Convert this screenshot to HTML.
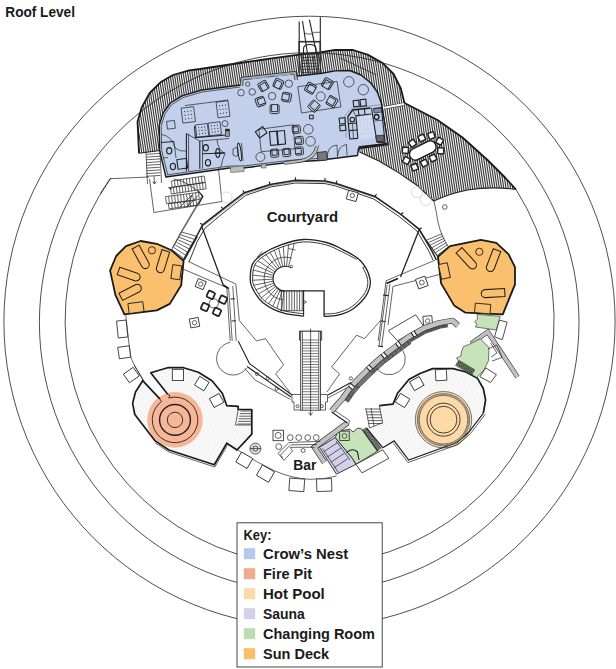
<!DOCTYPE html>
<html><head><meta charset="utf-8"><title>Roof Level</title>
<style>
html,body{margin:0;padding:0;background:#fff;}
body{width:616px;height:669px;overflow:hidden;position:relative;font-family:"Liberation Sans",sans-serif;}
svg{position:absolute;left:0;top:0;display:block;}
text{font-family:"Liberation Sans",sans-serif;font-weight:bold;fill:#1a1a1a;}
.t{stroke:#222;stroke-width:0.7;fill:none;}
.m{stroke:#222;stroke-width:1.1;fill:none;}
.k{stroke:#1a1a1a;stroke-width:1.8;fill:none;stroke-linejoin:round;}
.w{fill:#fff;stroke:#222;stroke-width:0.8;}
</style></head><body>
<svg width="616" height="669" viewBox="0 0 616 669">
<defs>
<pattern id="hd" width="1.8" height="40" patternUnits="userSpaceOnUse" patternTransform="rotate(7)"><rect width="1.8" height="40" fill="#fff"/><rect width="0.86" height="40" fill="#222"/></pattern>
<pattern id="hl" width="2.2" height="2.2" patternUnits="userSpaceOnUse" patternTransform="rotate(-30)"><rect width="2.2" height="2.2" fill="#fcfcfc"/><rect width="2.2" height="0.45" fill="#e2e2e2"/></pattern>
</defs>
<!-- TERRACE -->
<g id="terrace">
<path d="M139,153.2 L137.5,121.8 L141.7,107.4 L149.7,93 L160.5,82.3 L173,75 L189.2,70.3 L200,69 L240,63 L270,58.7 L297.4,54.8 L320,52.5 L335,49.8 L353,50 L367.6,54.6 L382.2,62.7 L393.6,74 L400.9,88.7 L404.5,103 L437.5,120 L462.5,137.5 L487.5,160 L505,177.5 L516,189.5 Q492,186 467.5,190 Q450,193.5 433.7,201 L418,186 L398.4,172.6 L379,161 L359.5,152 L300,150 L160,150.5 Z" fill="url(#hd)"/>
<path class="k" d="M139,153.2 L137.5,121.8 L141.7,107.4 L149.7,93 L160.5,82.3 L173,75 L189.2,70.3 L200,69 L240,63 L270,58.7 L297.4,54.8 L320,52.5 L335,49.8 L353,50 L367.6,54.6 L382.2,62.7 L393.6,74 L400.9,88.7 L404.5,103 L437.5,120 L462.5,137.5 L487.5,160 L505,177.5 L516,189.5"/>
<path class="m" d="M516,189.5 Q492,186 467.5,190 Q450,193.5 433.7,201 L418,186 L398.4,172.6 L379,161 L359.5,152"/>
<path class="m" d="M139,153.2 L160,150.5"/>
<path d="M384.6,107.6 L403.6,104.2" stroke="#333" stroke-width="3.2" fill="none"/><path d="M384.2,107.7 L404.2,104.1" stroke="#fff" stroke-width="2" fill="none"/>
<path class="t" d="M340,57.9 L376.5,75"/>
<rect x="-3" y="-3" width="6" height="6" rx="0.6" transform="translate(412.5 143.2) rotate(-35)" class="w" style="stroke-width:1.5"/><rect x="-3" y="-3" width="6" height="6" rx="0.6" transform="translate(421.8 138) rotate(-27)" class="w" style="stroke-width:1.5"/><rect x="-3" y="-3" width="6" height="6" rx="0.6" transform="translate(431.4 135.5) rotate(-18)" class="w" style="stroke-width:1.5"/><rect x="-3" y="-3" width="6" height="6" rx="0.6" transform="translate(439.6 141.2) rotate(30)" class="w" style="stroke-width:1.5"/><rect x="-3" y="-3" width="6" height="6" rx="0.6" transform="translate(440.7 150.8) rotate(5)" class="w" style="stroke-width:1.5"/><rect x="-3" y="-3" width="6" height="6" rx="0.6" transform="translate(433 158) rotate(-27)" class="w" style="stroke-width:1.5"/><rect x="-3" y="-3" width="6" height="6" rx="0.6" transform="translate(424.3 163.1) rotate(-27)" class="w" style="stroke-width:1.5"/><rect x="-3" y="-3" width="6" height="6" rx="0.6" transform="translate(414.6 167.2) rotate(-22)" class="w" style="stroke-width:1.5"/><rect x="-3" y="-3" width="6" height="6" rx="0.6" transform="translate(406.4 160.5) rotate(30)" class="w" style="stroke-width:1.5"/><rect x="-3" y="-3" width="6" height="6" rx="0.6" transform="translate(405.4 150.3) rotate(5)" class="w" style="stroke-width:1.5"/><rect x="-14.2" y="-6" width="28.4" height="12" rx="6" class="w" style="stroke-width:1.5" transform="translate(422.8 150.5) rotate(-26.6)"/>
</g>
<!-- RINGS -->
<g id="rings" class="t" style="stroke-width:0.8">
<circle cx="309.5" cy="321.8" r="305.6"/>
<circle cx="309.2" cy="322.5" r="269.8"/>
<path d="M516,189.5 A244.5,244.5 0 1 1 111,178"/>
</g>
<!-- BUILDING -->
<g id="building">
<path d="M165.9,177 L159.6,150.5 L159.2,125.4 L163.2,112.8 L170.4,103 L182,95.8 L201.8,90 L240.5,85 L241.5,78 L296,72 L297,76 L322,73.3 L335,70.9 L349.7,70.5 L361,75 L370.8,83 L377.3,92 L381.4,103.3 L388.2,144.6 L358.5,148.5 L357.5,155.5 L317.5,160.5 L290,162.3 L243,168 L229.5,168 Z" class="" fill="#c3d0ec" stroke="#1a1a1a" stroke-width="1.4" stroke-linejoin="round"/><path d="M167.5,174.8 L229.5,166 L243,166 L290,160.3 L317,158.5" class="t" /><path d="M167.8,175 L161.6,150.3 L161.2,125.8 L165,113.8 L171.8,104.6 L183,97.6 L202.2,92 L240,87" class="t" /><rect x="230.5" y="166.5" width="13.5" height="5.5" fill="#bdbdbd" stroke="#444" stroke-width="0.5" transform="rotate(-5 237 169)"/><rect x="261.4" y="164" width="4.6" height="4" fill="#bdbdbd" stroke="#444" stroke-width="0.5"/><path d="M241.2,86 L242,78.6 L295,72.6 L296.3,80" fill="none" stroke="#b5b5b5" stroke-width="2.4"/><path d="M240,86 L241,77.4 L296,71.4 L297.6,80 M242.6,86 L243.2,79.8 L293.8,74 L295,80" class="t"/><path d="M252,78.6 L268,76.8 M274,76.2 L290,74.4" stroke="#8fa5d0" stroke-width="1.2" fill="none"/><path d="M284.3,163 L300,161 Q315,159 317.2,145.7" fill="none" stroke="#c4c4c4" stroke-width="2.6"/><path d="M284.3,164.4 L300,162.4 Q316.6,160 318.6,145.7 M284.3,161.6 L300,159.6 Q313.6,157.5 315.8,145.7" class="t"/><path d="M184.9,105.6 L228.3,100" class="t" /><g transform="translate(188.2 114.9) rotate(-7)"><rect x="-6.3" y="-7.5" width="12.7" height="15" class="t"/><rect x="-3.7" y="-4.2" width="1" height="1" fill="#222"/><rect x="-3.7" y="-0.5" width="1" height="1" fill="#222"/><rect x="-3.7" y="3.2" width="1" height="1" fill="#222"/><rect x="-0.5" y="-4.2" width="1" height="1" fill="#222"/><rect x="-0.5" y="-0.5" width="1" height="1" fill="#222"/><rect x="-0.5" y="3.2" width="1" height="1" fill="#222"/><rect x="2.7" y="-4.2" width="1" height="1" fill="#222"/><rect x="2.7" y="-0.5" width="1" height="1" fill="#222"/><rect x="2.7" y="3.2" width="1" height="1" fill="#222"/></g><g transform="translate(223 109.2) rotate(-7)"><rect x="-6" y="-7.8" width="12" height="15.7" class="t"/><rect x="-3.5" y="-4.4" width="1" height="1" fill="#222"/><rect x="-3.5" y="-0.5" width="1" height="1" fill="#222"/><rect x="-3.5" y="3.4" width="1" height="1" fill="#222"/><rect x="-0.5" y="-4.4" width="1" height="1" fill="#222"/><rect x="-0.5" y="-0.5" width="1" height="1" fill="#222"/><rect x="-0.5" y="3.4" width="1" height="1" fill="#222"/><rect x="2.5" y="-4.4" width="1" height="1" fill="#222"/><rect x="2.5" y="-0.5" width="1" height="1" fill="#222"/><rect x="2.5" y="3.4" width="1" height="1" fill="#222"/></g><rect x="-4" y="-3.9" width="7.9" height="7.8" rx="0" transform="translate(171 124.8) rotate(-7)" class="t" /><g transform="translate(202.1 130.4) rotate(-7)"><rect x="-6" y="-6.2" width="12" height="12.4" class="t"/><rect x="-3.5" y="-3.6" width="1" height="1" fill="#222"/><rect x="-3.5" y="-0.5" width="1" height="1" fill="#222"/><rect x="-3.5" y="2.6" width="1" height="1" fill="#222"/><rect x="-0.5" y="-3.6" width="1" height="1" fill="#222"/><rect x="-0.5" y="-0.5" width="1" height="1" fill="#222"/><rect x="-0.5" y="2.6" width="1" height="1" fill="#222"/><rect x="2.5" y="-3.6" width="1" height="1" fill="#222"/><rect x="2.5" y="-0.5" width="1" height="1" fill="#222"/><rect x="2.5" y="2.6" width="1" height="1" fill="#222"/></g><g transform="translate(214.8 128.7) rotate(-7)"><rect x="-6" y="-6.3" width="12" height="12.7" class="t"/><rect x="-3.5" y="-3.7" width="1" height="1" fill="#222"/><rect x="-3.5" y="-0.5" width="1" height="1" fill="#222"/><rect x="-3.5" y="2.7" width="1" height="1" fill="#222"/><rect x="-0.5" y="-3.7" width="1" height="1" fill="#222"/><rect x="-0.5" y="-0.5" width="1" height="1" fill="#222"/><rect x="-0.5" y="2.7" width="1" height="1" fill="#222"/><rect x="2.5" y="-3.7" width="1" height="1" fill="#222"/><rect x="2.5" y="-0.5" width="1" height="1" fill="#222"/><rect x="2.5" y="2.7" width="1" height="1" fill="#222"/></g><path d="M194.5,126 L195.4,137.6 L229.8,134.8" class="m" /><circle cx="225" cy="123.6" r="3" class="t" /><rect x="225.3" y="129.1" width="4" height="7.5" fill="#999" stroke="#222" stroke-width="0.6"/><rect x="225.3" y="129.1" width="4" height="2.2" fill="#222"/><path d="M186.4,133.6 L186.4,171" class="m" /><path d="M188.6,133.6 L188.6,171" class="t" /><path d="M199.8,141 L199.8,168.7" class="m" /><path d="M202.5,141 L202.5,168.7" class="t" /><path d="M202.5,153.8 L225.3,153" class="m" /><path d="M186.4,133.6 L199.8,141 L229,138.5" class="t" /><path d="M161,142.5 L174,141.5" class="m" /><path d="M163,158 L168,157.5" class="t" /><path d="M174,141.5 L176,158" class="t" /><ellipse cx="205.8" cy="147.8" rx="2.6" ry="3.2" class="m"/><ellipse cx="208" cy="162.7" rx="2.6" ry="3.2" class="m"/><ellipse cx="169.2" cy="150.8" rx="2.6" ry="3.2" class="m"/><ellipse cx="172.9" cy="166.5" rx="2.6" ry="3.2" class="m"/><rect x="-4.8" y="-4.8" width="9.7" height="9.7" rx="0" transform="translate(182.2 163.8) rotate(-7)" class="m" /><path d="M161.5,134.5 Q172,136 175,148 Q180,152 186,151" class="t"/><path d="M217,140 Q218,150 225,153.5 Q222,160 221,167" class="t"/><ellipse cx="217.8" cy="153" rx="2" ry="4.4" class="m"/><path d="M214.5,153 H224" class="m"/><ellipse cx="239.5" cy="152" rx="1.6" ry="9" transform="rotate(-8 239.5 152)" class="m"/><path d="M233,149 Q236,146 238,149 V155 Q236,158 233,155 Z" class="t"/><path d="M241.5,143 L243,161" class="t"/><circle cx="241" cy="92.7" r="3.3" class="t" /><circle cx="252.2" cy="91.9" r="3.3" class="t" /><circle cx="247.7" cy="84.1" r="2.2" class="t" /><circle cx="288.8" cy="83.7" r="3.7" class="t" /><circle cx="272.1" cy="96.1" r="3.7" class="t" /><g transform="translate(263.4 86) rotate(-30)" class="t" style="stroke-width:0.9"><rect x="-4.5" y="-4.5" width="9" height="9" rx="1.5"/><path d="M-3,4.5 V-2.5 H3 V4.5"/></g><g transform="translate(278.4 83.7) rotate(25)" class="t" style="stroke-width:0.9"><rect x="-4.5" y="-4.5" width="9" height="9" rx="1.5"/><path d="M-3,4.5 V-2.5 H3 V4.5"/></g><g transform="translate(286.6 97.2) rotate(100)" class="t" style="stroke-width:0.9"><rect x="-4.5" y="-4.5" width="9" height="9" rx="1.5"/><path d="M-3,4.5 V-2.5 H3 V4.5"/></g><g transform="translate(274.6 109.1) rotate(180)" class="t" style="stroke-width:0.9"><rect x="-4.5" y="-4.5" width="9" height="9" rx="1.5"/><path d="M-3,4.5 V-2.5 H3 V4.5"/></g><g transform="translate(260.4 101.6) rotate(-110)" class="t" style="stroke-width:0.9"><rect x="-4.5" y="-4.5" width="9" height="9" rx="1.5"/><path d="M-3,4.5 V-2.5 H3 V4.5"/></g><path d="M297.8,86.7 L337.1,81.5 L340.9,106.9 L301.5,113 Z" class="t" /><g transform="translate(310.5 88.2) rotate(-60)" class="t" style="stroke-width:0.9"><rect x="-4.8" y="-4.8" width="9.5" height="9.5" rx="1.5"/><path d="M-3.2,4.8 V-2.8 H3.2 V4.8"/></g><g transform="translate(327.4 83.7) rotate(30)" class="t" style="stroke-width:0.9"><rect x="-4.8" y="-4.8" width="9.5" height="9.5" rx="1.5"/><path d="M-3.2,4.8 V-2.8 H3.2 V4.8"/></g><g transform="translate(331.9 101.6) rotate(120)" class="t" style="stroke-width:0.9"><rect x="-4.8" y="-4.8" width="9.5" height="9.5" rx="1.5"/><path d="M-3.2,4.8 V-2.8 H3.2 V4.8"/></g><g transform="translate(314 106.1) rotate(-140)" class="t" style="stroke-width:0.9"><rect x="-4.8" y="-4.8" width="9.5" height="9.5" rx="1.5"/><path d="M-3.2,4.8 V-2.8 H3.2 V4.8"/></g><circle cx="320.7" cy="96.4" r="4.5" class="t" /><rect x="309.6" y="115.2" width="3.6" height="3.6" fill="#c3d0ec" stroke="#222" stroke-width="1"/><path d="M258.9,129.3 L293.3,124.8 L294.8,148.7 L261.2,151.7 Z" class="t" /><rect x="-4.5" y="-3.8" width="9" height="7.5" rx="0" transform="translate(261.2 132.3) rotate(-35)" class="m" /><rect x="-3.6" y="-6.8" width="7.2" height="13.5" rx="0" transform="translate(273.6 138.3) rotate(-5)" class="m" /><rect x="-3.6" y="-6.8" width="7.2" height="13.5" rx="0" transform="translate(281.4 137.6) rotate(-5)" class="m" /><g transform="translate(296.3 129.3) rotate(85)" class="t" style="stroke-width:0.9"><rect x="-4" y="-4" width="8" height="8" rx="1.5"/><path d="M-2.5,4 V-2 H2.5 V4"/></g><g transform="translate(299.3 140.5) rotate(85)" class="t" style="stroke-width:0.9"><rect x="-4" y="-4" width="8" height="8" rx="1.5"/><path d="M-2.5,4 V-2 H2.5 V4"/></g><g transform="translate(299.3 151) rotate(85)" class="t" style="stroke-width:0.9"><rect x="-4" y="-4" width="8" height="8" rx="1.5"/><path d="M-2.5,4 V-2 H2.5 V4"/></g><g transform="translate(274.6 153.2) rotate(175)" class="t" style="stroke-width:0.9"><rect x="-4" y="-4" width="8" height="8" rx="1.5"/><path d="M-2.5,4 V-2 H2.5 V4"/></g><g transform="translate(286.6 152.5) rotate(175)" class="t" style="stroke-width:0.9"><rect x="-4" y="-4" width="8" height="8" rx="1.5"/><path d="M-2.5,4 V-2 H2.5 V4"/></g><circle cx="308.3" cy="129.3" r="4.8" class="t" /><circle cx="310.5" cy="141.3" r="4.8" class="t" /><circle cx="260.4" cy="157" r="4.5" class="t" /><circle cx="348.8" cy="81.8" r="5.2" class="t" /><circle cx="363.3" cy="89.7" r="5.2" class="t" /><path d="M355.9,115.9 L371.5,114 L375.2,137.6 L357.9,139.4 Z" fill="#d3dcf2" stroke="none"/><path d="M359.4,115.5 L361.5,139" class="" stroke="#c3cbe0" stroke-width="0.5" fill="none"/><path d="M356.2,120.6 L372.3,118.7" class="" stroke="#c3cbe0" stroke-width="0.5" fill="none"/><path d="M362.9,115.1 L365.1,138.6" class="" stroke="#c3cbe0" stroke-width="0.5" fill="none"/><path d="M356.2,125.3 L372.3,123.4" class="" stroke="#c3cbe0" stroke-width="0.5" fill="none"/><path d="M366.4,114.6 L368.7,138.2" class="" stroke="#c3cbe0" stroke-width="0.5" fill="none"/><path d="M356.2,130 L372.3,128.1" class="" stroke="#c3cbe0" stroke-width="0.5" fill="none"/><path d="M369.9,114.2 L372.3,137.8" class="" stroke="#c3cbe0" stroke-width="0.5" fill="none"/><path d="M356.2,134.7 L372.3,132.8" class="" stroke="#c3cbe0" stroke-width="0.5" fill="none"/><path d="M346.2,137.8 L344.7,115.9 L351,108.6 L380.8,104.7" class="" stroke="#777" stroke-width="0.6" fill="none"/><path d="M347.7,116.9 L352.5,110.1 L370.5,108.1" class="k" style="stroke-width:1.5"/><path d="M371.5,108 L376.9,141.7 L385.6,142.7" class="m" /><path d="M355.9,115.9 L371.3,114" class="m" /><path d="M355.9,115.9 L357.9,138.4" class="m" /><path d="M347.7,116.9 L349.8,139 L357.9,138.4" class="m" /><path d="M348.3,123.6 L356.5,123" class="m" /><path d="M349,130.6 L357.2,130" class="m" /><path d="M352.5,124 L353.5,138.6" class="t" /><path d="M358.3,109.5 L358.9,115.5" class="m" /><path d="M364.4,108.8 L365,114.8" class="m" /><path d="M352.5,110.1 L355.9,115.9" class="t" /><circle cx="352.3" cy="119.5" r="2.3" class="m" /><rect x="-2.8" y="-3.1" width="5.6" height="6.2" rx="0" transform="translate(356.2 103.5) rotate(-6)" class="m" /><rect x="-2.9" y="-3.3" width="5.8" height="6.6" rx="0" transform="translate(363.2 102.8) rotate(-6)" class="m" /><rect x="-2.9" y="-2.9" width="5.8" height="5.8" rx="0" transform="translate(342.3 120.8) rotate(-6)" class="m" /><rect x="-2.9" y="-2.7" width="5.8" height="5.4" rx="0" transform="translate(342.8 127.8) rotate(-6)" class="m" /><path d="M373.3,108.5 L381.3,107.5 L385,141.7 L377.2,142.4" class="m" /><path d="M374.6,121 L382.6,120.1" class="t" /><circle cx="376.6" cy="116.9" r="2.4" class="k" style="stroke-width:1.3"/><path d="M375.8,135.9 L383.6,135 L384.3,140.9 L376.6,141.8 Z" fill="#666" stroke="#222" stroke-width="0.8"/><path d="M373.6,109 L381.2,108.1 L381.6,112 L374.1,112.9 Z" fill="#8792ad" stroke="#222" stroke-width="0.7"/><path d="M327.4,157.5 Q327,146 337,145 L337.5,156.5 Q338,146 346.5,144.5 L347,155.5" class="t"/><path d="M358.5,147.2 L387,143.6" class="k" /><rect x="317.5" y="152" width="9.5" height="8.5" fill="#777" stroke="#222" stroke-width="0.8" transform="rotate(-6 322 156)"/>
</g>
<!-- COURTYARD -->
<g id="courtyard">
<path d="M183.4,260 L194.8,239.5 L202.7,224.8 L223.2,208.9 L244.3,192.7 L270,184.5 L295.5,180.3 L325,181 L336.3,183.5 L375,196.5 L401.1,214.5 L419.3,229.3 L431.8,250.9 L436.4,260" class="m" style="stroke-width:1.5"/><path d="M189,262 L197.5,241 L205,228.2 L225,211.5 L245.5,195.5 L270.5,187 L295.5,183 L325,183.6 L335.8,186 L373.8,199 L399.5,216.8 L417,231 L429,251.5 L433,260" class="t" style="stroke-width:0.9"/><path d="M203.3,225.9 L223.8,210 L244.9,193.8 L270.6,185.6 L296.1,181.4 L325.6,182.1 L336.9,184.6 L375.6,197.6 L401.7,215.6 L419.9,230.4" class="t" style="stroke-width:0.5"/><path d="M295.5,180.3 L295.5,177.3" class="m" /><path d="M325,181 L325,178" class="m" /><path d="M270,184.5 L269.2,181.5" class="m" /><path d="M244.3,192.7 L242.8,190.2" class="m" /><path d="M223.2,208.9 L221.2,206.9" class="m" /><path d="M202.7,224.8 L200.2,223.3" class="m" /><path d="M336.3,183.5 L336.9,180.5" class="m" /><path d="M375,196.5 L376.5,194" class="m" /><path d="M401.1,214.5 L403.1,212.5" class="m" /><path d="M419.3,229.3 L421.8,227.8" class="m" /><path d="M201.6,225.9 L223.2,285" class="m" style="stroke-width:1.3"/><path d="M419.3,229.3 L400.5,277" class="m" style="stroke-width:1.3"/><rect x="-5" y="-4.5" width="10" height="9" rx="0" transform="translate(352.3 195.9) rotate(15)" class="w" /><circle cx="352.3" cy="195.5" r="2.2" class="t" /><path d="M188.2,261.4 L235.9,284.1 L239.3,320.5" class="t" /><path d="M183.6,269.3 L221.1,285.2 L226.8,287.5 L230.2,340.9" class="t" /><path d="M228.6,287.5 L232.2,340.9" class="t" /><path d="M232.8,286 L236.2,340.9" class="t" /><path d="M223.2,285 L228.5,288.5" class="k" /><path d="M230.5,299 L235,298.7" class="m" /><path d="M231.5,321 L236,320.7" class="m" /><path d="M435,260.2 L386.1,280.7 L378.2,340.9" class="t" /><path d="M446.4,272.7 L393,286.4 L388,325" class="t" /><path d="M390,284.1 L381.6,346.6" class="t" /><path d="M387,285 L379,346" class="t" /><path d="M386.5,283.5 L398,278.5" class="k" /><path d="M383,295 L388.5,295.6" class="m" /><path d="M381,321 L385.5,321.5" class="m" /><path d="M378,346 L383,346.6" class="m" /><path d="M230.2,342.3 A16.5,16.5 0 1 0 246.6,368" class="t"/><path d="M239.3,320.5 L256.4,340.9 L265.5,338.6 L283.6,364.8 L275.7,373.9 L290,392.5" class="t" /><path d="M238.2,340.9 L249.5,363.6 L292,395" class="m" /><path d="M247,366.5 L291,397" class="m" /><path d="M245,368.5 L255,380 L290.5,399.5" class="t" /><circle cx="267.7" cy="378.4" r="1.5" class="t" /><circle cx="257" cy="374" r="1.5" class="t" /><circle cx="276.5" cy="389" r="1.5" class="t" /><path d="M380.5,320.5 L364.5,338.6 L356.6,335.2 L331.6,367 L339.5,373.9 L327,392" class="t" /><path d="M328,395 L351,382.5" class="m" /><path d="M328,398 L352,385" class="t" /><circle cx="350.9" cy="378.4" r="1.6" class="t" /><circle cx="213.8" cy="303.4" r="4.6" class="t" /><rect x="-3.4" y="-3.4" width="6.8" height="6.8" rx="1.2" transform="translate(210.8 294.9) rotate(25)" class="w" style="stroke-width:1.8"/><rect x="-3.4" y="-3.4" width="6.8" height="6.8" rx="1.2" transform="translate(223 299.7) rotate(25)" class="w" style="stroke-width:1.8"/><rect x="-3.4" y="-3.4" width="6.8" height="6.8" rx="1.2" transform="translate(217 311.9) rotate(25)" class="w" style="stroke-width:1.8"/><rect x="-3.4" y="-3.4" width="6.8" height="6.8" rx="1.2" transform="translate(205 307) rotate(25)" class="w" style="stroke-width:1.8"/><rect x="-4.3" y="-4.3" width="8.6" height="8.6" rx="0" transform="translate(200.7 284.1) rotate(22)" class="w" /><circle cx="200.7" cy="284.1" r="2.2" class="t" /><rect x="-4.5" y="-4.5" width="9" height="9" rx="0" transform="translate(194.5 322.7) rotate(-10)" class="w" /><circle cx="194.5" cy="322.7" r="2.2" class="t" /><rect x="-5" y="-5" width="10" height="10" rx="0" transform="translate(421.8 282.5) rotate(-20)" class="w" /><circle cx="421.8" cy="282.5" r="2.4" class="t" /><rect x="-4.5" y="-4.5" width="9" height="9" rx="0" transform="translate(427.7 320.5) rotate(-5)" class="w" /><circle cx="427.7" cy="321" r="2.2" class="t" /><path d="M388.4,330.7 L415.7,314.8 L423.6,326.1 L397.5,340.9 Z" class="w" />
</g>
<!-- SPIRAL -->
<g id="spiral">
<clipPath id="encl"><path d="M303.6,313.8 C300.7,313.4 290.8,312.3 286,311.3 C281.3,310.2 278.8,309.3 275.2,307.5 C271.5,305.8 266.9,302.8 264.2,300.6 C261.5,298.5 260.7,297 259,294.5 C257.3,292.1 255.1,288.5 254,285.9 C253,283.3 252.5,282.4 252.6,279 C252.7,275.5 252.7,269 254.6,265.2 C256.6,261.3 259.5,258.9 264,255.9 C268.6,252.9 275.1,249.4 281.7,247.1 C288.3,244.7 296.4,242.3 303.7,241.9 C311.1,241.5 319.6,243.2 325.8,244.8 C332.1,246.4 335.7,248.5 341.2,251.4 C346.7,254.3 354.3,257.7 358.7,262.3 C363.2,267 366.6,274.4 367.6,279.4 C368.7,284.4 367.8,287.9 365.2,292.4 C362.6,296.9 356.9,303.1 352.2,306.5 C347.5,309.9 341.8,311.6 337.1,312.9 C332.4,314.1 326.3,313.8 324.1,314 L324.1,290 L303.6,290 Z"/></clipPath><path d="M303.6,316.2 C300.6,315.8 290.4,314.7 285.5,313.6 C280.6,312.5 277.9,311.6 274.1,309.7 C270.3,307.8 265.6,304.8 262.7,302.5 C259.8,300.2 258.8,298.5 257,295.9 C255.2,293.3 252.9,289.6 251.8,286.8 C250.7,284 250.1,282.7 250.2,278.9 C250.3,275.1 250.4,268.3 252.5,264.1 C254.6,259.9 258,257.1 262.7,253.9 C267.4,250.7 274.1,247.2 280.9,244.8 C287.7,242.4 296,239.9 303.6,239.5 C311.2,239.1 319.9,240.9 326.4,242.5 C332.8,244.1 336.6,246.3 342.3,249.3 C348,252.3 355.9,255.8 360.5,260.7 C365.1,265.6 368.9,273.4 370,278.9 C371.1,284.4 370,288.7 367.3,293.6 C364.6,298.5 358.5,304.8 353.6,308.4 C348.7,312 342.6,313.9 337.7,315.2 C332.8,316.5 326.4,316.2 324.1,316.4" class="m" style="stroke-width:1.3"/><path d="M303.6,313.8 C300.7,313.4 290.8,312.3 286,311.3 C281.3,310.2 278.8,309.3 275.2,307.5 C271.5,305.8 266.9,302.8 264.2,300.6 C261.5,298.5 260.7,297 259,294.5 C257.3,292.1 255.1,288.5 254,285.9 C253,283.3 252.5,282.4 252.6,279 C252.7,275.5 252.7,269 254.6,265.2 C256.6,261.3 259.5,258.9 264,255.9 C268.6,252.9 275.1,249.4 281.7,247.1 C288.3,244.7 296.4,242.3 303.7,241.9 C311.1,241.5 319.6,243.2 325.8,244.8 C332.1,246.4 336.1,249 341.2,251.4 C346.3,253.8 353.9,257.9 356.5,259.2" class="m" style="stroke-width:0.9"/><path d="M362.8,267.5 C363.6,269.5 367.2,275.2 367.6,279.4 C368.1,283.5 367.8,287.9 365.2,292.4 C362.6,296.9 356.9,303.1 352.2,306.5 C347.5,309.9 341.8,311.6 337.1,312.9 C332.4,314.1 326.3,313.8 324.1,314" class="m" style="stroke-width:0.9"/><path d="M356.5,259.2 L358.3,257.6" class="t" /><path d="M362.8,267.5 L365,266.5" class="t" /><path d="M303.6,316.2 L303.6,290.9 L279.8,290.9" class="m" /><path d="M303.6,290.9 L324.1,290.9 L324.1,316.4" class="m" style="stroke-width:1.3"/><path d="M281.4,291 L281.4,310.7" class="t" /><path d="M284,291 L284,310.7" class="t" /><path d="M286.6,291 L286.6,310.7" class="t" /><path d="M289.2,291 L289.2,310.7" class="t" /><path d="M291.8,291 L291.8,310.7" class="t" /><path d="M294.4,291 L294.4,310.7" class="t" /><path d="M297,291 L297,310.7" class="t" /><path d="M299.6,291 L299.6,310.7" class="t" /><path d="M302.2,291 L302.2,310.7" class="t" /><path d="M279.8,310.7 L303.6,310.7" class="t" /><path d="M304,300.5 L306.5,302 L304,303.5" class="t" /><g clip-path="url(#encl)"><path d="M284,290.9 L280.6,318.3" class="t" /><path d="M282.1,290.5 L274.5,317.1" class="t" /><path d="M280.3,289.9 L268.7,314.9" class="t" /><path d="M278.6,288.9 L263.3,311.9" class="t" /><path d="M277.1,287.7 L258.4,308" class="t" /><path d="M275.8,286.3 L254.2,303.5" class="t" /><path d="M274.7,284.7 L250.7,298.3" class="t" /><path d="M273.9,283 L248.1,292.7" class="t" /><path d="M273.4,281.1 L246.3,286.8" class="t" /><path d="M273.1,279.2 L245.5,280.6" class="t" /><path d="M273.2,277.3 L245.7,274.4" class="t" /><path d="M273.5,275.4 L246.9,268.3" class="t" /><path d="M274.2,273.6 L248.9,262.4" class="t" /><path d="M275.1,271.9 L251.9,257" class="t" /><path d="M276.2,270.4 L255.6,252" class="t" /><path d="M277.6,269 L260.1,247.7" class="t" /><path d="M279.2,267.9 L265.2,244.1" class="t" /><path d="M280.9,267.1 L270.8,241.4" class="t" /><path d="M282.8,266.5 L276.7,239.6" class="t" /><path d="M284.7,266.2 L282.8,238.7" class="t" /><path d="M286.6,266.2 L289.1,238.8" class="t" /><path d="M288.5,266.6 L295.2,239.8" class="t" /></g><path d="M284.4,291 A12.4,12.4 0 1 1 291.3,267.7" class="m"/><path d="M282.9,299.8 A21.4,21.4 0 1 1 291.8,258.1" class="t"/><circle cx="291.3" cy="266.6" r="1.3" class="t" /><path d="M288.5,248.5 L295.5,250" class="t" /><path d="M262,251.5 L257.5,256.5 L259.5,258" class="t" />
</g>
<!-- CENTRALSTAIR -->
<g id="cstair">
<rect x="299.5" y="331.2" width="22.2" height="8.8" class="w"/><rect x="300.7" y="331.2" width="19.8" height="79" class="w"/><path d="M302.4,331.2 L302.4,410" class="t" /><path d="M318.8,331.2 L318.8,410" class="t" /><path d="M302.4,340 L318.8,340" class="t" style="stroke-width:0.6"/><path d="M302.4,342.7 L318.8,342.7" class="t" style="stroke-width:0.6"/><path d="M302.4,345.4 L318.8,345.4" class="t" style="stroke-width:0.6"/><path d="M302.4,348.2 L318.8,348.2" class="t" style="stroke-width:0.6"/><path d="M302.4,350.9 L318.8,350.9" class="t" style="stroke-width:0.6"/><path d="M302.4,353.6 L318.8,353.6" class="t" style="stroke-width:0.6"/><path d="M302.4,356.3 L318.8,356.3" class="t" style="stroke-width:0.6"/><path d="M302.4,359 L318.8,359" class="t" style="stroke-width:0.6"/><path d="M302.4,361.8 L318.8,361.8" class="t" style="stroke-width:0.6"/><path d="M302.4,364.5 L318.8,364.5" class="t" style="stroke-width:0.6"/><path d="M302.4,367.2 L318.8,367.2" class="t" style="stroke-width:0.6"/><path d="M302.4,369.9 L318.8,369.9" class="t" style="stroke-width:0.6"/><path d="M302.4,372.6 L318.8,372.6" class="t" style="stroke-width:0.6"/><path d="M302.4,375.4 L318.8,375.4" class="t" style="stroke-width:0.6"/><path d="M302.4,378.1 L318.8,378.1" class="t" style="stroke-width:0.6"/><path d="M302.4,380.8 L318.8,380.8" class="t" style="stroke-width:0.6"/><path d="M302.4,383.5 L318.8,383.5" class="t" style="stroke-width:0.6"/><path d="M302.4,386.2 L318.8,386.2" class="t" style="stroke-width:0.6"/><path d="M302.4,389 L318.8,389" class="t" style="stroke-width:0.6"/><path d="M302.4,391.7 L318.8,391.7" class="t" style="stroke-width:0.6"/><path d="M302.4,394.4 L318.8,394.4" class="t" style="stroke-width:0.6"/><path d="M302.4,397.1 L318.8,397.1" class="t" style="stroke-width:0.6"/><path d="M302.4,399.8 L318.8,399.8" class="t" style="stroke-width:0.6"/><path d="M302.4,402.6 L318.8,402.6" class="t" style="stroke-width:0.6"/><path d="M302.4,405.3 L318.8,405.3" class="t" style="stroke-width:0.6"/><path d="M302.4,408 L318.8,408" class="t" style="stroke-width:0.6"/><path d="M310.6,328.7 L310.6,415" class="t" /><path d="M308.6,412.5 L310.6,415.5 L312.6,412.5" class="t" /><path d="M300.7,394.5 L292,394.5 L292,402 L294,402 L294,410 L300.7,410" class="t" /><path d="M320.5,394.5 L327.5,394.5 L327.5,402 L325.5,402 L325.5,410 L320.5,410" class="t" /><circle cx="297.5" cy="406.2" r="1.5" class="t" /><circle cx="321.8" cy="406.2" r="1.5" class="t" />
</g>
<!-- SUNDECKS -->
<g id="sundecks">
<path d="M171.4,250.3 L181.2,231.6 L202,196" class="t" /><path d="M184.4,260 L197.4,236.5" class="m" /><path d="M172.2,249.8 L183.9,258.5" class="t" /><path d="M173.5,247.3 L185.7,255.3" class="t" /><path d="M174.9,244.7 L187.4,252.1" class="t" /><path d="M176.2,242.2 L189.2,248.9" class="t" /><path d="M177.5,239.6 L191,245.7" class="t" /><path d="M178.8,237.1 L192.7,242.6" class="t" /><path d="M180.2,234.6 L194.5,239.4" class="t" /><path d="M181.5,232 L196.2,236.2" class="t" /><path d="M437.9,256.7 L420,231.5" class="m" /><path d="M448.4,246.9 Q441,236 438,222 Q436,210 434,201.2" class="t"/><path d="M437.4,255.2 L448.4,246.9" class="t" /><path d="M435.6,252.7 L447.4,244.7" class="t" /><path d="M433.9,250.1 L446.4,242.5" class="t" /><path d="M432.1,247.6 L445.4,240.2" class="t" /><path d="M430.3,245.1 L444.4,238" class="t" /><path d="M428.5,242.6 L443.4,235.8" class="t" /><path d="M426.8,240 L442.4,233.6" class="t" /><path d="M124.4,314.4 L115.4,294.9 L110.1,270.6 L116.2,256 L126,246.2 L140.6,241 L156.8,243.8 L171.4,250.3 L183.6,260.8 L181.2,285.2 L169.8,303.9 L156.8,310.4 Z" class="" fill="#fac06e" stroke="#1a1a1a" stroke-width="1.8" stroke-linejoin="round"/><path d="M-12,-4 H8 A4,4 0 0 1 8,4 H-12 Z" transform="translate(141.4 257.6) rotate(61)" fill="#fac06e" stroke="#222" stroke-width="1.05"/><path d="M-11.3,-4 H7.3 A4,4 0 0 1 7.3,4 H-11.3 Z" transform="translate(162.5 261.7) rotate(107)" fill="#fac06e" stroke="#222" stroke-width="1.05"/><path d="M-11.3,-4 H7.3 A4,4 0 0 1 7.3,4 H-11.3 Z" transform="translate(129.2 274.6) rotate(19)" fill="#fac06e" stroke="#222" stroke-width="1.05"/><path d="M-11.3,-4 H7.3 A4,4 0 0 1 7.3,4 H-11.3 Z" transform="translate(130.8 291.7) rotate(-27)" fill="#fac06e" stroke="#222" stroke-width="1.05"/><rect x="-4.5" y="-7" width="9" height="14" rx="0" transform="translate(176.3 272.2) rotate(8)" class="" fill="#fac06e" stroke="#222" stroke-width="0.9"/><rect x="-7.5" y="-5" width="15" height="10" rx="0" transform="translate(136 307.6) rotate(-8)" class="" fill="#fac06e" stroke="#222" stroke-width="0.9"/><circle cx="151.9" cy="250.3" r="3.6" class="" fill="#fac06e" stroke="#222" stroke-width="0.9"/><path d="M437.9,256.7 L450,246.1 L480.9,239.9 L496.3,242.9 L508.5,254.2 L515,267.2 L515,284.3 L502.8,314.3 L465.5,312.7 L454.1,305.4 L441.1,283.4 Z" class="" fill="#fac06e" stroke="#1a1a1a" stroke-width="1.8" stroke-linejoin="round"/><path d="M-12,-4 H8 A4,4 0 0 1 8,4 H-12 Z" transform="translate(467.1 259.1) rotate(47.6)" fill="#fac06e" stroke="#222" stroke-width="1.05"/><path d="M-11.3,-4 H7.3 A4,4 0 0 1 7.3,4 H-11.3 Z" transform="translate(493 260.7) rotate(111)" fill="#fac06e" stroke="#222" stroke-width="1.05"/><path d="M-11.8,-4 H7.8 A4,4 0 0 1 7.8,4 H-11.8 Z" transform="translate(493 293.2) rotate(177)" fill="#fac06e" stroke="#222" stroke-width="1.05"/><rect x="-4.5" y="-7.5" width="9" height="15" rx="0" transform="translate(444.4 271) rotate(-12)" class="" fill="#fac06e" stroke="#222" stroke-width="0.9"/><rect x="-7.8" y="-4.8" width="15.5" height="9.5" rx="0" transform="translate(482.7 308.6) rotate(5)" class="" fill="#fac06e" stroke="#222" stroke-width="0.9"/><circle cx="479.3" cy="251.8" r="3.6" class="" fill="#fac06e" stroke="#222" stroke-width="0.9"/>
</g>
<!-- FIREPIT -->
<g id="firepit">
<path d="M159.8,398.9 L142.7,380.7 L135.5,392 L132.6,403.4 L134.8,414.5 L155.2,440.9 L168.9,450 L214.3,464.8 L226.8,443.2 L237,450 L251.8,434.1 L251.8,409.5 L238.2,409.5 L238.2,406.4 L226.8,405.7 L222.3,393.2 L212,380.7 L198.4,372.3 L183.6,367.7 L167.7,367.7 L150.7,372.7 L167.7,394.3 Z" class="" fill="url(#hl)" stroke="none"/><circle cx="175" cy="419.9" r="27.8" class="" fill="#f7b697" stroke="none"/><path d="M159.8,398.9 L142.7,380.7 L135.5,392 L132.6,403.4 L134.8,414.5 L155.2,440.9 L168.9,450 L214.3,464.8 L226.8,443.2 L237,450 L251.8,434.1 L251.8,409.5 L238.2,409.5 L238.2,406.4 L226.8,405.7 L222.3,393.2 L212,380.7 L198.4,372.3 L183.6,367.7 L167.7,367.7 L150.7,372.7 L167.7,394.3" class="k" style="stroke-width:1.7"/><path d="M155.2,442.9 L168.9,452 L214.8,467 L227.3,445.5" class="t" /><path d="M167.7,394.3 L170,395.8 L168.7,398 A22.8,22.8 0 1 1 158.9,403.8 L161.5,401.5 L159.8,398.9" class="m" style="stroke-width:0.9"/><circle cx="175" cy="419.9" r="15.4" class="m" style="stroke-width:1.4"/><circle cx="175" cy="419.9" r="7.7" class="m" style="stroke-width:0.9"/><rect x="-5.7" y="-5.7" width="11.3" height="11.3" rx="0" transform="translate(178 375) rotate(0)" class="w" /><rect x="-5.5" y="-5" width="11" height="10" rx="0" transform="translate(201.8 383.6) rotate(32)" class="w" /><rect x="-5.5" y="-5" width="11" height="10" rx="0" transform="translate(216.6 400.5) rotate(-28)" class="w" /><path d="M240.5,411 L251.8,411" class="t" /><path d="M239.9,413.6 L251.8,413.6" class="t" /><path d="M239.3,416.2 L251.8,416.2" class="t" /><path d="M238.7,418.8 L251.8,418.8" class="t" /><path d="M238.1,421.4 L251.8,421.4" class="t" /><path d="M237.5,424 L251.8,424" class="t" /><path d="M238.2,409.5 L235.5,425 L251.8,425" class="t" />
</g>
<!-- HOTPOOL -->
<g id="hotpool">
<path d="M379.3,405.7 L393,404.1 L397.5,393.2 L408.9,379.5 L420,373.5 L432.7,368.6 L453.2,368.6 L466,372 L477.4,378.2 L483.3,388.5 L485.6,400 L483.3,413.3 L468.7,432.3 L457,442.5 L408.7,460.1 L394.1,440.9 L382.7,447.7 L366.8,428.4 L382.7,422.7 Z" class="" fill="url(#hl)" stroke="none"/><circle cx="443.5" cy="419.7" r="28.2" class="" fill="#fdd9a8" stroke="#444" stroke-width="0.7"/><path d="M379.3,405.7 L393,404.1 L397.5,393.2 L408.9,379.5 L420,373.5 L432.7,368.6 L453.2,368.6 L466,372 L477.4,378.2 L483.3,388.5 L485.6,400 L483.3,413.3" class="k" style="stroke-width:1.7"/><path d="M483.3,413.3 L468.7,432.3 L457,442.5 L408.7,460.1 L394.1,440.9 L382.7,447.7 L366.8,428.4" class="m" style="stroke-width:1.2"/><path d="M485.3,414.2 L470.3,433.8 L458,444.5 L408,462.5 L393.3,443.2" class="t" /><circle cx="443.5" cy="419.7" r="26.1" class="" fill="none" stroke="#555" stroke-width="0.8"/><circle cx="443.5" cy="419.7" r="25.2" class="" fill="none" stroke="#777" stroke-width="0.7"/><circle cx="443.5" cy="419.7" r="24.3" class="" fill="none" stroke="#555" stroke-width="0.8"/><circle cx="443.5" cy="419.7" r="16.5" class="t" style="stroke-width:0.85"/><circle cx="443.5" cy="419.7" r="13.4" class="t" style="stroke-width:0.85"/><rect x="-5.5" y="-5.5" width="11" height="11" rx="0" transform="translate(441.1 375) rotate(-3)" class="w" /><rect x="-5.5" y="-5" width="11" height="10" rx="0" transform="translate(416.8 383.6) rotate(-30)" class="w" /><rect x="-5.5" y="-5" width="11" height="10" rx="0" transform="translate(402.5 400.5) rotate(32)" class="w" /><path d="M365.7,409 L380.5,409" class="t" /><path d="M366.3,411.9 L380.9,411.9" class="t" /><path d="M366.9,414.8 L381.3,414.8" class="t" /><path d="M367.5,417.7 L381.7,417.7" class="t" /><path d="M368.1,420.6 L382.1,420.6" class="t" /><path d="M368.7,423.5 L382.5,423.5" class="t" /><path d="M365.7,408 L369.5,428 L382.7,422.7 L379.3,405.7" class="t" /><path d="M371,408 L374,426" class="t" />
</g>
<!-- BAR -->
<g id="bar">
<path d="M337.7,431.5 L349.8,429.1 L353,432 L358,428 L362,429.1 L377.8,451 L355.9,464.4 L352.3,458.3 L335.2,437.6 Z" class="" fill="#c6e2b8" stroke="#222" stroke-width="0.8"/><path d="M319.4,447.3 L335.2,437.6 L352.3,458.3 L355.9,464.4 L336.4,474.1 Z" class="" fill="#d5d0ea" stroke="#222" stroke-width="0.9"/><path d="M324,451.6 L337.5,442.6" class="t" /><path d="M327.4,457 L340.9,448" class="t" /><path d="M330.8,462.3 L344.3,453.3" class="t" /><path d="M334.2,467.7 L347.7,458.7" class="t" /><path d="M322.5,448.5 L338,472" class="t" /><path d="M336,441 L350,460" class="t" /><path d="M346.5,453 Q352,447 357.5,452 L359,460" class="m" fill="none"/><rect x="-4.8" y="-4.8" width="9.5" height="9.5" rx="0" transform="translate(344.5 435.9) rotate(0)" class="" fill="#c6e2b8" stroke="#222" stroke-width="0.8"/><circle cx="344.5" cy="435.9" r="2.4" class="t" /><path d="M362.3,430 L377.5,451.3" class="t" style="stroke-width:0.75;stroke:#111"/><path d="M363.1,429.4 L378.2,450.8" class="t" style="stroke-width:0.75;stroke:#111"/><path d="M363.8,428.9 L379,450.2" class="t" style="stroke-width:0.75;stroke:#111"/><path d="M364.6,428.4 L379.8,449.7" class="t" style="stroke-width:0.75;stroke:#111"/><path d="M365.3,427.8 L380.5,449.1" class="t" style="stroke-width:0.75;stroke:#111"/><path d="M366.1,427.2 L381.2,448.6" class="t" style="stroke-width:0.75;stroke:#111"/><path d="M355.9,464.4 L382.7,449.8 L388.8,458.3 L362,472.9 Z" class="w" /><path d="M347.4,423 L314.5,447.3 L324.5,462.5" class="" fill="none" stroke="#333" stroke-width="5.6" stroke-linejoin="miter"/><path d="M347.4,423 L314.5,447.3 L324.5,462.5" class="" fill="none" stroke="#c2c2c2" stroke-width="4.2" stroke-linejoin="miter"/><path d="M331.6,412 L347.4,423" class="m" /><path d="M334,410 L349.5,420.5 L348.5,425" class="t" /><path d="M331.6,411 L342.5,398.7 L348.6,390 L355.5,381.8 L366.8,370.5 L380.5,358 L394.1,347.7 L407.7,337.5 L423.6,328.4 L439,323 L452.6,320.6 L458,325.5" fill="none" stroke="#333" stroke-width="5.8" stroke-linejoin="round"/><path d="M331.6,411 L342.5,398.7 L348.6,390 L355.5,381.8 L366.8,370.5 L380.5,358 L394.1,347.7 L407.7,337.5 L423.6,328.4 L439,323 L452.6,320.6 L458,325.5" fill="none" stroke="#c2c2c2" stroke-width="4.6" stroke-linejoin="round"/><g transform="translate(351.5 386.5) rotate(-50)"><rect x="-1.7" y="-2.1" width="3.4" height="4.2" fill="#fff"/><path d="M-1.7,-2.7 V2.7 M1.7,-2.7 V2.7" stroke="#111" stroke-width="1"/></g><g transform="translate(369.5 368) rotate(-44)"><rect x="-1.7" y="-2.1" width="3.4" height="4.2" fill="#fff"/><path d="M-1.7,-2.7 V2.7 M1.7,-2.7 V2.7" stroke="#111" stroke-width="1"/></g><g transform="translate(384 355.3) rotate(-40)"><rect x="-1.7" y="-2.1" width="3.4" height="4.2" fill="#fff"/><path d="M-1.7,-2.7 V2.7 M1.7,-2.7 V2.7" stroke="#111" stroke-width="1"/></g><g transform="translate(398.5 344.5) rotate(-36)"><rect x="-1.7" y="-2.1" width="3.4" height="4.2" fill="#fff"/><path d="M-1.7,-2.7 V2.7 M1.7,-2.7 V2.7" stroke="#111" stroke-width="1"/></g><g transform="translate(414 334) rotate(-31)"><rect x="-1.7" y="-2.1" width="3.4" height="4.2" fill="#fff"/><path d="M-1.7,-2.7 V2.7 M1.7,-2.7 V2.7" stroke="#111" stroke-width="1"/></g><path d="M345,400.5 L351.1,391.9 L357.8,383.9 L368.9,372.7 L382.5,360.4 L396,350.2 L409.4,340.1 L424.9,331.2 L439.9,326 L447.5,324.7" class="t" style="stroke-width:0.7;stroke:#111"/><path d="M345.6,400.9 L351.6,392.3 L358.3,384.4 L369.4,373.3 L382.9,360.9 L396.4,350.8 L409.8,340.7 L425.2,331.9 L440.1,326.7 L447.7,325.4" class="t" style="stroke-width:0.7;stroke:#111"/><path d="M346.2,401.3 L352.2,392.8 L358.8,384.9 L369.9,373.8 L383.4,361.5 L396.8,351.3 L410.2,341.3 L425.5,332.5 L440.3,327.4 L447.8,326.1" class="t" style="stroke-width:0.7;stroke:#111"/><path d="M346.8,401.7 L352.8,393.2 L359.3,385.4 L370.4,374.3 L383.9,362 L397.3,351.9 L410.6,341.9 L425.8,333.2 L440.5,328.1 L447.9,326.8" class="t" style="stroke-width:0.7;stroke:#111"/><path d="M347.4,402.1 L353.3,393.6 L359.9,385.9 L370.9,374.8 L384.3,362.6 L397.7,352.5 L411,342.5" class="t" style="stroke-width:0.7;stroke:#111"/><path d="M348,402.5 L353.9,394.1 L360.4,386.4 L371.4,375.4 L384.8,363.1 L398.1,353.1 L411.4,343.1" class="t" style="stroke-width:0.7;stroke:#111"/><path d="M376.5,368 A15.8,15.8 0 0 0 402.8,350.5" class="t"/><path d="M471.1,343.6 L487.7,331.9 L517.5,377" class="" fill="none" stroke="#333" stroke-width="4.8" stroke-linejoin="miter"/><path d="M471.1,343.6 L487.7,331.9 L517.5,377" class="" fill="none" stroke="#c2c2c2" stroke-width="3.6" stroke-linejoin="miter"/><path d="M477,314.4 L500.3,316.3 L496.4,330 L475.5,327 L477,324 L474.5,322 L477.5,319 Z" class="" fill="#c6e2b8" stroke="#222" stroke-width="0.6"/><path d="M461.3,352 L463.5,346.5 L468.6,344.6 L480.3,338.8 L489,347.5 L488.5,360.7 L484,370 L476.8,377.5 L455.5,365.5 L458.5,361 L456.5,358 L461,356 Z" class="" fill="#c6e2b8" stroke="#222" stroke-width="0.6"/><path d="M456.3,364.6 L472.5,374.4" class="t" style="stroke-width:0.75;stroke:#111"/><path d="M456.8,363.8 L473,373.5" class="t" style="stroke-width:0.75;stroke:#111"/><path d="M457.3,362.9 L473.5,372.7" class="t" style="stroke-width:0.75;stroke:#111"/><path d="M457.8,362.1 L474,371.8" class="t" style="stroke-width:0.75;stroke:#111"/><path d="M458.3,361.2 L474.5,371" class="t" style="stroke-width:0.75;stroke:#111"/><path d="M458.8,360.4 L475,370.1" class="t" style="stroke-width:0.75;stroke:#111"/><path d="M488,349 L497,345 L502,357.5 L492,361" class="t" /><path d="M499.4,320.2 L507.1,322.1 L502.3,339.7 L494.5,336.8 Z" class="w" /><path d="M485.7,367.9 L496.4,374.7 L490.6,382.5 L479.9,376.7 Z" class="w" /><path d="M490.5,343 L497,353 L491,357" class="t" /><path d="M289,442.5 L320.6,441.3" class="t" /><path d="M290.2,447.3 L314.5,447.3" class="t" /><path d="M291,444.8 L317,444.5" class="t" /><path d="M289,442.5 L278,453.4 L284.1,460.3 L292.6,451 L290.2,447.3" class="t" /><path d="M290.5,444.8 L280.5,455 L283,458" class="t" /><circle cx="290.2" cy="437.6" r="2.9" class="t" /><circle cx="298.7" cy="437.6" r="2.9" class="t" /><circle cx="307.7" cy="437.6" r="2.9" class="t" /><circle cx="316.2" cy="437.6" r="2.9" class="t" /><circle cx="278.7" cy="446.6" r="2.9" class="t" /><circle cx="303.1" cy="450.5" r="2" class="t" /><rect x="-5.2" y="-5.2" width="10.5" height="10.5" rx="0" transform="translate(278.2 435.4) rotate(0)" class="w" /><circle cx="278.2" cy="435.4" r="3" class="t" /><circle cx="255.4" cy="448.6" r="5.5" class="" fill="#ddd" stroke="#222" stroke-width="0.7"/><circle cx="255.4" cy="448.6" r="2.5" class="t" /><path d="M250,448.6 L261,448.6" class="t" /><path d="M134,365 L143.9,380.7 M226.8,443.2 L240,451.5 Q256,462 273.8,470.5 Q292,478.6 310,479.3 Q325,479.5 336.4,476" class="t"/><rect x="-7" y="-6" width="14" height="12" rx="0" transform="translate(265.5 473.6) rotate(30)" class="w" /><rect x="-7.5" y="-6.2" width="15" height="12.5" rx="0" transform="translate(296.8 484.8) rotate(4)" class="w" /><rect x="-7.5" y="-6.2" width="15" height="12.5" rx="0" transform="translate(324.2 485) rotate(-2)" class="w" /><rect x="-6.5" y="-5.8" width="13" height="11.5" rx="0" transform="translate(244.3 460.3) rotate(30)" class="w" />
</g>
<!-- MISC -->
<g id="misc">
<path d="M299.2,21.4 L299.2,73.5" class="m" /><path d="M320.3,17.3 L320.3,73" class="m" /><path d="M302.5,21 L308,57" class="m" /><path d="M309.4,19.7 L317,55.5" class="m" /><path d="M304,33 Q308,34.5 312,34 L314,32.3 L320.3,32.3" class="t"/><rect x="299.2" y="41.7" width="21.1" height="12.1" fill="none" stroke="#333" stroke-width="1.6"/><path d="M303.5,53.8 V49 Q303.5,44.5 309.5,44.5 Q316,44.5 316,49 V53.8" class="m"/><path d="M302,54 L302,74" class="m" /><path d="M318,54 L318,73.5" class="m" /><path d="M307.5,57 L308.5,74" class="t" /><path d="M313.5,56 L314.5,73.8" class="t" /><path d="M302,57.5 L318,57.1" class="t" /><path d="M302,60.5 L318,60.1" class="t" /><path d="M302,63.5 L318,63.1" class="t" /><path d="M302,66.5 L318,66.1" class="t" /><path d="M302,69.5 L318,69.1" class="t" /><path d="M302,72.5 L318,72.1" class="t" /><path d="M146,153 L147.5,184" class="t" /><path d="M160,151 L161.5,183" class="t" /><path d="M146.2,154.3 L160.3,153.4" class="t" /><path d="M146.2,157.1 L160.3,156.2" class="t" /><path d="M146.2,159.8 L160.3,158.9" class="t" /><path d="M146.2,162.6 L160.3,161.7" class="t" /><path d="M146.2,165.3 L160.3,164.4" class="t" /><path d="M146.2,168.1 L160.3,167.2" class="t" /><path d="M146.2,170.8 L160.3,169.9" class="t" /><path d="M146.2,173.6 L160.3,172.7" class="t" /><path d="M146.2,176.3 L160.3,175.4" class="t" /><path d="M154,176 L154.5,184" class="t" /><path d="M152.8,181.5 L154.5,184 L156.2,181.5" class="t" /><path d="M149.5,178.9 L153.9,212.5 L221.9,201.5 L218.9,172.3" class="t" /><path d="M218.9,172.3 L218.5,168" class="t" /><path d="M100,194 L110,178.7 L148.7,177" class="t" /><path d="M173.6,178.9 Q190,182 202.9,196.4 L172.5,247.5" class="t"/><path d="M171.4,181 L204.3,176" class="t" /><path d="M172.2,187.4 L205.1,182.4" class="t" /><path d="M171.4,181 L172.2,187.4" class="t" /><path d="M174.4,180.5 L175.2,186.9" class="t" /><path d="M177.4,180.1 L178.2,186.5" class="t" /><path d="M180.4,179.6 L181.2,186" class="t" /><path d="M183.4,179.2 L184.2,185.6" class="t" /><path d="M186.4,178.7 L187.2,185.1" class="t" /><path d="M189.3,178.3 L190.1,184.7" class="t" /><path d="M192.3,177.8 L193.1,184.2" class="t" /><path d="M195.3,177.4 L196.1,183.8" class="t" /><path d="M198.3,176.9 L199.1,183.3" class="t" /><path d="M201.3,176.5 L202.1,182.9" class="t" /><path d="M204.3,176 L205.1,182.4" class="t" /><path d="M170.5,187.6 L205.3,182.4" class="t" /><path d="M171.3,194 L206.1,188.8" class="t" /><path d="M170.5,187.6 L171.3,194" class="t" /><path d="M173.4,187.2 L174.2,193.6" class="t" /><path d="M176.3,186.7 L177.1,193.1" class="t" /><path d="M179.2,186.3 L180,192.7" class="t" /><path d="M182.1,185.9 L182.9,192.3" class="t" /><path d="M185,185.4 L185.8,191.8" class="t" /><path d="M187.9,185 L188.7,191.4" class="t" /><path d="M190.8,184.6 L191.6,191" class="t" /><path d="M193.7,184.1 L194.5,190.5" class="t" /><path d="M196.6,183.7 L197.4,190.1" class="t" /><path d="M199.5,183.3 L200.3,189.7" class="t" /><path d="M202.4,182.8 L203.2,189.2" class="t" /><path d="M205.3,182.4 L206.1,188.8" class="t" /><path d="M165.6,196.6 L198.5,192.4" class="t" /><path d="M166.4,203.6 L199.3,199.4" class="t" /><path d="M165.6,196.6 L166.4,203.6" class="t" /><path d="M168.6,196.2 L169.4,203.2" class="t" /><path d="M171.6,195.8 L172.4,202.8" class="t" /><path d="M174.6,195.5 L175.4,202.5" class="t" /><path d="M177.6,195.1 L178.4,202.1" class="t" /><path d="M180.6,194.7 L181.4,201.7" class="t" /><path d="M183.5,194.3 L184.3,201.3" class="t" /><path d="M186.5,193.9 L187.3,200.9" class="t" /><path d="M189.5,193.5 L190.3,200.5" class="t" /><path d="M192.5,193.2 L193.3,200.2" class="t" /><path d="M195.5,192.8 L196.3,199.8" class="t" /><path d="M198.5,192.4 L199.3,199.4" class="t" /><path d="M168.3,203.8 L196,200.2" class="t" /><path d="M169.1,208.8 L196.8,205.2" class="t" /><path d="M168.3,203.8 L169.1,208.8" class="t" /><path d="M171.4,203.4 L172.2,208.4" class="t" /><path d="M174.5,203 L175.3,208" class="t" /><path d="M177.5,202.6 L178.3,207.6" class="t" /><path d="M180.6,202.2 L181.4,207.2" class="t" /><path d="M183.7,201.8 L184.5,206.8" class="t" /><path d="M186.8,201.4 L187.6,206.4" class="t" /><path d="M189.8,201 L190.6,206" class="t" /><path d="M192.9,200.6 L193.7,205.6" class="t" /><path d="M196,200.2 L196.8,205.2" class="t" /><path d="M171.5,187.7 L169.2,187.9 L171.5,189.3" class="m" /><path d="M180,207 L192,195 L188,206 L198,195.5" class="t" /><path d="M198,190.5 L202.9,196.4 L198.5,204.5" class="m" /><circle cx="226.5" cy="197.5" r="5.5" class="" fill="none" stroke="#c8c8c8" stroke-width="0.7"/><circle cx="417" cy="192" r="5.5" class="" fill="none" stroke="#c8c8c8" stroke-width="0.7"/><circle cx="425.7" cy="200" r="5.5" class="" fill="none" stroke="#c8c8c8" stroke-width="0.7"/><circle cx="444.8" cy="207" r="2.3" class="t" /><path d="M125.8,315.3 L128.5,340 L131,358 L134.3,365 L142.8,380" class="t" /><rect x="-4.8" y="-8.5" width="9.6" height="17" rx="0" transform="translate(122.2 329) rotate(-6)" class="w" /><rect x="-5.8" y="-5.8" width="11.5" height="11.5" rx="0" transform="translate(124.3 352.3) rotate(-8)" class="w" /><rect x="-6" y="-5.2" width="12" height="10.5" rx="0" transform="translate(131.3 375) rotate(-35)" class="w" />
</g>
<!-- KEY -->
<g id="key">
<rect x="237" y="522.8" width="145.2" height="144.2" fill="#fff" stroke="#333" stroke-width="0.9"/>
<text x="243.5" y="539.7" font-size="14.5" textLength="28" lengthAdjust="spacingAndGlyphs">Key:</text>
<rect x="243.8" y="548.2" width="11.4" height="11" fill="#b7c9e8"/>
<rect x="243.8" y="568.2" width="11.4" height="11" fill="#f4ab8c"/>
<rect x="243.8" y="588.2" width="11.4" height="11" fill="#fdd9a8"/>
<rect x="243.8" y="608.2" width="11.4" height="11" fill="#d5cfe8"/>
<rect x="243.8" y="628.2" width="11.4" height="11" fill="#bddcb0"/>
<rect x="243.8" y="648.2" width="11.4" height="11" fill="#fbbf69"/>
<text x="263" y="559.2" font-size="14.5" textLength="85.2" lengthAdjust="spacingAndGlyphs">Crow’s Nest</text>
<text x="263" y="579.2" font-size="14.5">Fire Pit</text>
<text x="263" y="599.4" font-size="14.5" textLength="61.8" lengthAdjust="spacingAndGlyphs">Hot Pool</text>
<text x="263" y="619.4" font-size="14.5" textLength="41.8" lengthAdjust="spacingAndGlyphs">Sauna</text>
<text x="263" y="639.2" font-size="14.5" textLength="112" lengthAdjust="spacingAndGlyphs">Changing Room</text>
<text x="263" y="659.2" font-size="14.5">Sun Deck</text>
</g>
<text x="5.3" y="16.6" font-size="14" textLength="69.7" lengthAdjust="spacingAndGlyphs">Roof Level</text>
<text x="266.8" y="222.3" font-size="14.5" textLength="71.3" lengthAdjust="spacingAndGlyphs">Courtyard</text>
<text x="293.3" y="470" font-size="14.5" textLength="23" lengthAdjust="spacingAndGlyphs">Bar</text>
</svg>
</body></html>
